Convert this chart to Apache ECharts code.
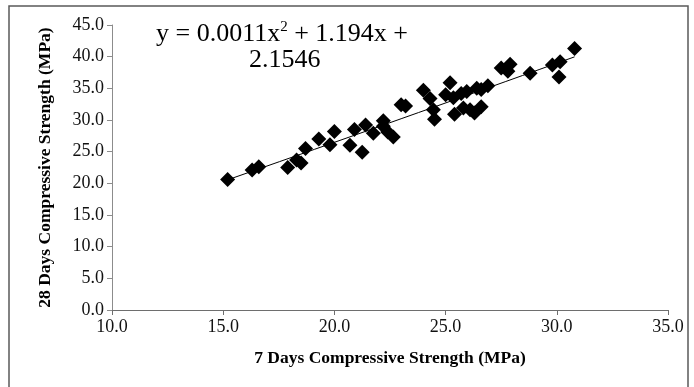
<!DOCTYPE html>
<html>
<head>
<meta charset="utf-8">
<script src="https://cdn.jsdelivr.net/npm/echarts@6/dist/echarts.min.js"></script>
<style>
  html, body { margin: 0; padding: 0; background: #fff; }
  #chart { width: 694px; height: 387px; }
</style>
</head>
<body>
<div id="chart"></div>
<script>
// 7 days strength (x) vs 28 days strength (y)
const strength7 = [15.2, 16.3, 16.6, 17.9, 18.3, 18.5, 18.7, 19.3, 19.8, 20.0,
  20.7, 20.9, 21.25, 21.4, 21.75, 22.2, 22.2, 22.4, 22.65, 23.0,
  23.2, 24.0, 24.3, 24.45, 24.5, 25.2, 25.0, 25.35, 25.4, 25.7,
  25.95, 25.8, 26.1, 26.3, 26.6, 26.4, 26.6, 26.9, 27.5, 27.9,
  27.8, 28.8, 29.8, 30.15, 30.1, 30.8]
const strength28 = [20.6, 22.1, 22.6, 22.5, 23.7, 23.2, 25.5, 27.0, 26.1, 28.2,
  26.0, 28.5, 24.9, 29.2, 27.9, 29.9, 29.0, 28.1, 27.3, 32.4,
  32.2, 34.7, 33.4, 31.6, 30.1, 35.9, 34.0, 33.5, 30.9, 34.2,
  34.5, 31.9, 31.6, 31.1, 32.1, 35.0, 34.8, 35.4, 38.2, 38.8,
  37.7, 37.4, 38.7, 39.2, 36.8, 41.3]
// polynomial trendline coefficients shown on the chart (a x^2 + b x + c)
const trendCoef = [0.0011, 1.194, 2.1546]
const xTicks = [10, 15, 20, 25, 30, 35]
const yTicks = [0, 5, 10, 15, 20, 25, 30, 35, 40, 45]

const points = strength7.map((x, i) => [x, strength28[i]])
const xMin = Math.min(...strength7)
const xMax = Math.max(...strength7)
const trend = []
for (let k = 0; k <= 20; k++) {
  const x = xMin + (xMax - xMin) * k / 20
  trend.push([x, trendCoef[0] * x * x + trendCoef[1] * x + trendCoef[2]])
}

const serif = '"Liberation Serif", "Times New Roman", serif'
const chart = echarts.init(document.getElementById('chart'))
chart.setOption({
  backgroundColor: '#fff',
  animation: false,
  grid: { left: 112, right: 26, top: 25, bottom: 77 },
  xAxis: {
    type: 'value',
    min: xTicks[0],
    max: xTicks[xTicks.length - 1],
    interval: 5,
    name: '7 Days Compressive Strength (MPa)',
    nameLocation: 'middle',
    nameGap: 39,
    nameTextStyle: { fontFamily: serif, fontWeight: 'bold', fontSize: 17.5, color: '#000' },
    axisLine: { lineStyle: { color: '#6e6e6e', width: 1 } },
    axisTick: { show: true, length: 5, lineStyle: { color: '#6e6e6e' } },
    axisLabel: {
      fontFamily: serif, fontSize: 18, color: '#111', margin: 8,
      formatter: v => v.toFixed(1)
    },
    splitLine: { show: false }
  },
  yAxis: {
    type: 'value',
    min: yTicks[0],
    max: yTicks[yTicks.length - 1],
    interval: 5,
    name: '28 Days Compressive Strength (MPa)',
    nameLocation: 'middle',
    nameGap: 58,
    nameTextStyle: { fontFamily: serif, fontWeight: 'bold', fontSize: 17.5, color: '#000' },
    axisLine: { show: true, lineStyle: { color: '#8c8c8c', width: 1 } },
    axisTick: { show: true, length: 5, lineStyle: { color: '#8c8c8c' } },
    axisLabel: {
      fontFamily: serif, fontSize: 18, color: '#111', margin: 8,
      formatter: v => v.toFixed(1)
    },
    splitLine: { show: false }
  },
  graphic: [
    {
      type: 'rect',
      shape: { x: 9, y: 6, width: 679, height: 392 },
      style: { fill: 'none', stroke: '#5a5a5a', lineWidth: 1.5 },
      silent: true, z: 100
    },
    {
      type: 'text',
      left: 156, top: 20,
      style: {
        text: '{t|y = 0.0011x}{s|2}{t| + 1.194x +}',
        rich: {
          t: { fontFamily: serif, fontSize: 26, fill: '#000' },
          s: { fontFamily: serif, fontSize: 15, fill: '#000', verticalAlign: 'top', padding: [0, 0, 14, 0] }
        }
      },
      z: 50
    },
    {
      type: 'text',
      left: 249, top: 47,
      style: { text: '2.1546', fontFamily: serif, fontSize: 26, fill: '#000' },
      z: 50
    },
    {
      // text box cut at the bottom, as in the source
      type: 'rect',
      shape: { x: 240, y: 68, width: 100, height: 14 },
      style: { fill: '#fff' },
      silent: true, z: 51
    }
  ],
  series: [
    {
      type: 'line',
      data: trend,
      showSymbol: false,
      smooth: false,
      lineStyle: { color: '#000', width: 1 },
      z: 1
    },
    {
      type: 'scatter',
      data: points,
      symbol: 'diamond',
      symbolSize: 15,
      itemStyle: { color: '#000', opacity: 1 },
      z: 2
    }
  ]
})
</script>
</body>
</html>
